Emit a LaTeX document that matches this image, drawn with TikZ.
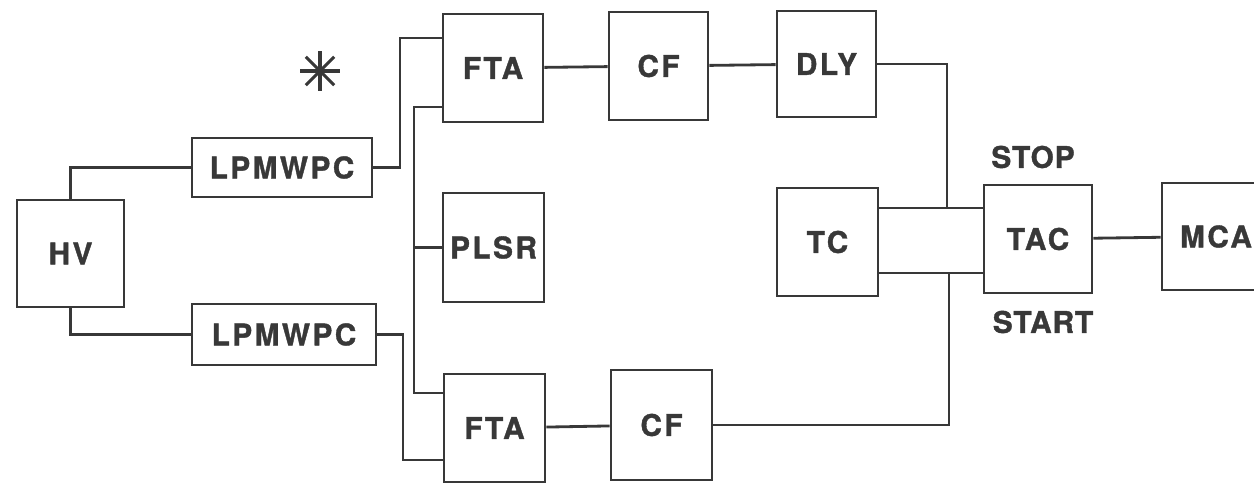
\documentclass[tikz,border=0pt]{standalone}
\usepackage{fontspec}
\setmainfont{TeX Gyre Heros}
\usetikzlibrary{calc,positioning}
\definecolor{ink}{HTML}{383838}

\begin{document}
\begin{tikzpicture}[x=0.02cm, y=-0.02cm, line width=1.6pt, draw=ink,
  blk/.style={draw=ink, text=ink, inner sep=0pt, font=\fontsize{17}{20}\selectfont\bfseries\addfontfeature{LetterSpace=8,FakeBold=1.2}},
  lbl/.style={text=ink, inner sep=0pt, font=\fontsize{17}{20}\selectfont\bfseries\addfontfeature{LetterSpace=3,FakeBold=1.2}}]
\useasboundingbox (0,0) rectangle (1254,483);

\node[blk, minimum width=2.14cm, minimum height=2.14cm] (HV) at (70.5,253.5) {HV};
\node[blk, minimum width=3.6cm, minimum height=1.18cm] (LPMa) at (282,167.5) {LPMWPC};
\node[blk, minimum width=3.68cm, minimum height=1.22cm] (LPMb) at (284,334.5) {LPMWPC};
\node[blk, minimum width=2cm, minimum height=2.16cm] (FTAa) at (493,68) {FTA};
\node[blk, minimum width=1.98cm, minimum height=2.16cm] (CFa) at (658.5,66) {CF};
\node[blk, minimum width=1.98cm, minimum height=2.12cm] (DLY) at (826.5,64) {DLY};
\node[blk, minimum width=2.02cm, minimum height=2.18cm] (PLSR) at (493.5,247.5) {PLSR};
\node[blk, minimum width=2.02cm, minimum height=2.16cm] (TC) at (827.5,242) {TC};
\node[blk, minimum width=2.02cm, minimum height=2.16cm] (FTAb) at (494.5,428) {FTA};
\node[blk, minimum width=2.02cm, minimum height=2.2cm] (CFb) at (661.5,425) {CF};
\node[blk, minimum width=2.16cm, minimum height=2.16cm] (TAC) at (1038,239) {TAC};
\node[blk, minimum width=2.16cm, minimum height=2.14cm] (MCA) at (1216,236.5) {MCA};
\node[lbl] (STOP) at (1033,157) {STOP};
\node[lbl] (START) at (1043,322) {START};

\coordinate (ja) at (400,38);
\coordinate (jb) at (403,460);
\coordinate (ba) at (414,107);
\coordinate (bb) at (414,393);
\coordinate (ca) at (947,208);
\coordinate (cb) at (949,273);
\coordinate (star) at (320,71);

% supply to the chambers
\draw (HV.north) |- (LPMa.west);
\draw (HV.south) |- (LPMb.west);
\draw (LPMa.east) -| (ja) -- (ja -| FTAa.west);
\draw (LPMb.east) -| (jb) -- (jb -| FTAb.west);
% pulser bus
\draw (ba -| FTAa.west) -- (ba) -- (bb) -- (bb -| FTAb.west);
\draw (PLSR.west) -- (PLSR.west -| ba);
% timing chain
\draw (FTAa) -- (CFa) -- (DLY);
\draw (FTAb) -- (CFb);
\draw (DLY.east) -| (ca);
\draw (CFb.east) -| (cb);
\draw (ca -| TC.east) -- (ca -| TAC.west);
\draw (cb -| TC.east) -- (cb -| TAC.west);
\draw (TAC) -- (MCA);

\foreach \a in {0,45,...,315}
  \draw[line width=1.8pt] (star) -- ++(\a:0.4cm);
\end{tikzpicture}
\end{document}
